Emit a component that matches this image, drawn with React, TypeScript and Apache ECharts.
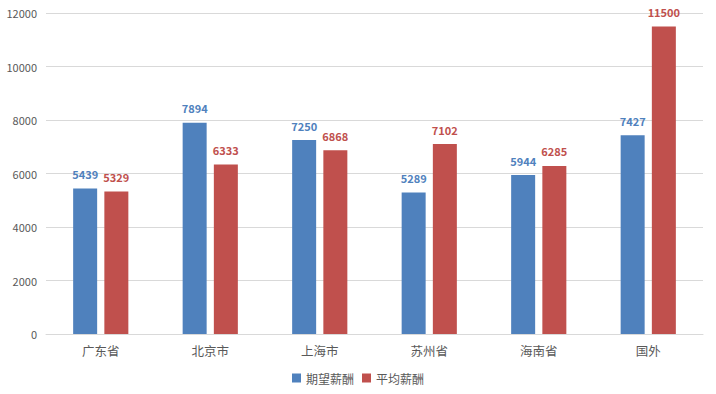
import React, { useEffect, useRef } from "react";
import * as echarts from "echarts";

const categories = ["广东省", "北京市", "上海市", "苏州省", "海南省", "国外"];
const expected = [5439, 7894, 7250, 5289, 5944, 7427];
const average = [5329, 6333, 6868, 7102, 6285, 11500];
const seriesNames = ["期望薪酬", "平均薪酬"];

export default function App() {
  const ref = useRef<HTMLDivElement>(null);
  useEffect(() => {
    const chart = echarts.init(ref.current!, null, { renderer: "svg" });
    const font = "'Microsoft YaHei', 'Noto Sans CJK SC', 'Noto Sans', sans-serif";
    chart.setOption({
      animation: false,
      textStyle: { fontFamily: font },
      grid: { left: 46, right: 13, top: 13, bottom: 60 },
      legend: {
        bottom: 5,
        left: "center",
        itemWidth: 9,
        itemHeight: 9,
        itemGap: 8,
        icon: "rect",
        textStyle: { color: "#595959", fontSize: 12, fontFamily: font },
        data: seriesNames,
      },
      xAxis: {
        type: "category",
        data: categories,
        axisLine: { lineStyle: { color: "#d9d9d9" } },
        axisTick: { show: false },
        axisLabel: { color: "#595959", fontSize: 12.5, margin: 10, fontFamily: font },
      },
      yAxis: {
        type: "value",
        min: 0,
        max: 12000,
        interval: 2000,
        axisLine: { show: false },
        axisTick: { show: false },
        splitLine: { lineStyle: { color: "#d9d9d9" } },
        axisLabel: {
          color: "#595959",
          fontSize: 11,
          margin: 9,
          fontFamily: font,
          formatter: (v: number) => String(v),
        },
      },
      series: [
        {
          name: seriesNames[0],
          type: "bar",
          data: expected,
          barWidth: 24,
          barGap: "30%",
          itemStyle: { color: "#4f81bd" },
          label: {
            show: true,
            position: "top",
            distance: 9,
            color: "#4f81bd",
            fontWeight: "bold",
            fontSize: 11,
            fontFamily: font,
          },
        },
        {
          name: seriesNames[1],
          type: "bar",
          data: average,
          barWidth: 24,
          barGap: "30%",
          itemStyle: { color: "#c0504d" },
          label: {
            show: true,
            position: "top",
            distance: 9,
            color: "#c0504d",
            fontWeight: "bold",
            fontSize: 11,
            fontFamily: font,
          },
        },
      ],
    });
    return () => chart.dispose();
  }, []);
  return (
    <div
      ref={ref}
      style={{ position: "fixed", left: 0, top: 0, width: 716, height: 394, background: "#fff" }}
    />
  );
}
